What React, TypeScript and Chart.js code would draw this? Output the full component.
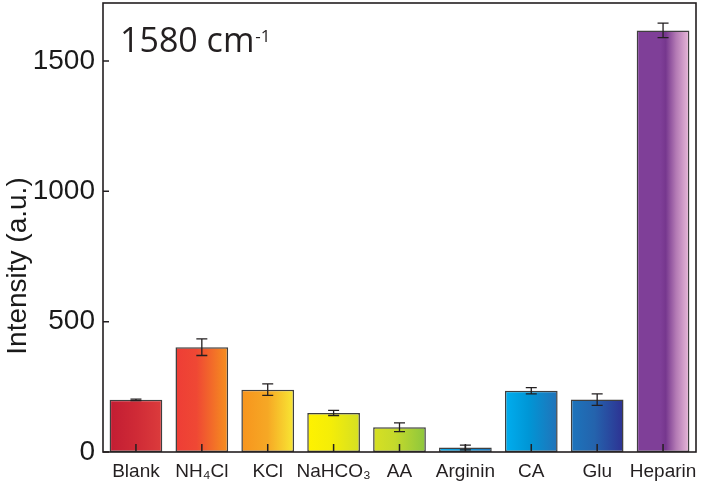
import React, { useEffect, useRef } from "react";
import { Chart, registerables } from "chart.js";

Chart.register(...registerables);

const categories = ["Blank", "NH\u2084Cl", "KCl", "NaHCO\u2083", "AA", "Arginin", "CA", "Glu", "Heparin"];
const values = [200, 402, 239, 150, 95, 17, 235, 201, 1617];
const errors = [3, 32, 22, 10, 17, 9, 12, 22, 28];
const yTicks = [0, 500, 1000, 1500];
const yMax = 1722;

const gradientStops: [number, string][][] = [
  [[0, "#c21d33"], [0.5, "#cf2a36"], [1, "#dc3c3c"]],
  [[0, "#ee3d36"], [0.4, "#ef4834"], [1, "#f6901e"]],
  [[0, "#f7941d"], [0.5, "#f6a825"], [1, "#f8e833"]],
  [[0, "#fff200"], [0.45, "#f4ed08"], [1, "#d4df24"]],
  [[0, "#d7e022"], [0.4, "#c6da2b"], [1, "#8cc63e"]],
  [[0, "#10aae9"], [0.5, "#0d93d4"], [1, "#1f76bd"]],
  [[0, "#00aeef"], [0.45, "#0096d6"], [1, "#2272b8"]],
  [[0, "#1c75bc"], [0.45, "#2463ad"], [1, "#2e3192"]],
  [[0, "#7f3f98"], [0.45, "#7f3f98"], [0.55, "#76378e"], [0.75, "#b47bb5"], [1, "#e9bada"]],
];

const INK = "#231f20";

const overlay = {
  id: "overlay",
  afterDatasetsDraw(chart: any) {
    const { ctx, chartArea, scales } = chart;
    const x = scales.x;
    const y = scales.y;
    ctx.save();
    // error bars
    ctx.strokeStyle = INK;
    ctx.lineWidth = 1.3;
    values.forEach((v, i) => {
      const cx = x.getPixelForValue(i);
      const top = y.getPixelForValue(v + errors[i]);
      const bot = y.getPixelForValue(v - errors[i]);
      ctx.beginPath();
      ctx.moveTo(cx, top);
      ctx.lineTo(cx, bot);
      ctx.moveTo(cx - 5.5, top);
      ctx.lineTo(cx + 5.5, top);
      ctx.moveTo(cx - 5.5, bot);
      ctx.lineTo(cx + 5.5, bot);
      ctx.stroke();
    });
    // inward ticks
    ctx.lineWidth = 1.5;
    ctx.beginPath();
    yTicks.forEach((t) => {
      const py = y.getPixelForValue(t);
      ctx.moveTo(chartArea.left, py);
      ctx.lineTo(chartArea.left + 6, py);
    });
    categories.forEach((_, i) => {
      const px = x.getPixelForValue(i);
      ctx.moveTo(px, chartArea.bottom);
      ctx.lineTo(px, chartArea.bottom - 8);
    });
    ctx.stroke();
    // frame
    ctx.lineWidth = 1.6;
    ctx.strokeRect(chartArea.left, chartArea.top, chartArea.right - chartArea.left, chartArea.bottom - chartArea.top);
    // annotation
    ctx.fillStyle = INK;
    ctx.textAlign = "left";
    ctx.textBaseline = "alphabetic";
    ctx.font = '34px "Open Sans", sans-serif';
    const main = "1580 cm";
    ctx.fillText(main, 120, 52);
    const w = ctx.measureText(main).width;
    ctx.font = '17px "Open Sans", sans-serif';
    ctx.fillText("-1", 120 + w + 1, 42);
    // y axis title
    ctx.save();
    ctx.translate(26, 266);
    ctx.rotate(-Math.PI / 2);
    ctx.textAlign = "center";
    ctx.font = '28px "Liberation Sans", Arial, sans-serif';
    ctx.fillStyle = "#1a1a1a";
    ctx.fillText("Intensity (a.u.)", 0, 0);
    ctx.restore();
    ctx.restore();
  },
};

export default function App() {
  const ref = useRef<HTMLCanvasElement | null>(null);
  useEffect(() => {
    if (!ref.current) return;
    const chart = new Chart(ref.current, {
      type: "bar",
      data: {
        labels: categories,
        datasets: [
          {
            data: values,
            backgroundColor: (c: any) => {
              const ch = c.chart;
              const stops = gradientStops[c.dataIndex] || gradientStops[0];
              if (!ch.chartArea || !ch.scales.x) return stops[0][1];
              const xs = ch.scales.x;
              const cx = xs.getPixelForValue(c.dataIndex);
              const half = ((xs.width / categories.length) * 0.8) / 2;
              const g = ch.ctx.createLinearGradient(cx - half, 0, cx + half, 0);
              stops.forEach(([o, col]) => g.addColorStop(o, col));
              return g;
            },
            borderColor: "#3f3f3f",
            borderWidth: 1.5,
            borderSkipped: false,
            barPercentage: 0.8,
            categoryPercentage: 1.0,
          },
        ],
      },
      options: {
        animation: false,
        responsive: false,
        maintainAspectRatio: false,
        layout: { padding: { top: 3, right: 6, left: 0, bottom: 0 } },
        plugins: { legend: { display: false }, tooltip: { enabled: false } },
        scales: {
          x: {
            grid: { display: false, drawTicks: false },
            border: { display: false },
            ticks: {
              padding: 8,
              color: INK,
              font: { family: '"Liberation Sans", Arial, sans-serif', size: 19 },
              maxRotation: 0,
              autoSkip: false,
            },
            afterFit: (s: any) => {
              s.height = 35;
              s.paddingLeft = 0;
              s.paddingRight = 0;
            },
          },
          y: {
            min: 0,
            max: yMax,
            grid: { display: false, drawTicks: false },
            border: { display: false },
            ticks: {
              stepSize: 500,
              padding: 8,
              color: "#1a1a1a",
              font: { family: '"Liberation Sans", Arial, sans-serif', size: 28 },
              callback: (v: any) => String(v),
            },
            afterBuildTicks: (s: any) => {
              s.ticks = yTicks.map((v) => ({ value: v }));
            },
            afterFit: (s: any) => {
              s.width = 103;
              s.paddingTop = 0;
              s.paddingBottom = 0;
            },
          },
        },
      },
      plugins: [overlay],
    });
    return () => chart.destroy();
  }, []);
  return (
    <div style={{ position: "fixed", left: 0, top: 0, width: 702, height: 487, background: "#fff" }}>
      <canvas ref={ref} width={702} height={487} style={{ display: "block" }} />
    </div>
  );
}
